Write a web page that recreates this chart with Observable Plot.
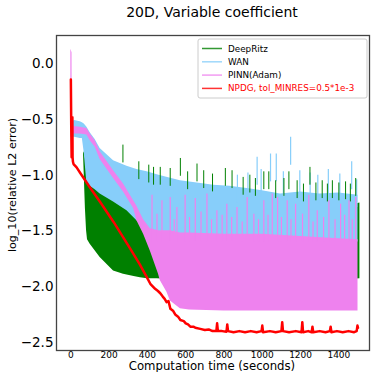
<!DOCTYPE html>
<html>
<head>
<meta charset="utf-8">
<script src="https://cdn.jsdelivr.net/npm/d3@7"></script>
<script src="https://cdn.jsdelivr.net/npm/@observablehq/plot@0.6"></script>
<style>
  body { margin: 0; background: #fff; }
  #chart { position: relative; width: 371px; height: 372px; }
  svg { font-family: "DejaVu Sans", sans-serif; }
</style>
</head>
<body>
<div id="chart"></div>
<script>
// ---------- tick labels ----------
const xTicks = [0, 200, 400, 600, 800, 1000, 1200, 1400];
const yTicks = [0, -0.5, -1.0, -1.5, -2.0, -2.5];

// ---------- series names / colors ----------
const seriesNames = ["DeepRitz", "WAN", "PINN(Adam)", "NPDG, tol_MINRES=0.5*1e-3"];
const seriesColors = ["#008000", "#87CEFA", "#EE82EE", "#FF0000"];

// ---------- DeepRitz (noisy band: lower / upper envelope) ----------
const greenT  = [66, 70, 76, 82, 87, 101, 153, 223, 275, 330, 363, 400, 450, 600, 800, 1000, 1200, 1400, 1510];
const greenLo = [-0.80, -1.00, -1.30, -1.50, -1.58, -1.62, -1.74, -1.86, -1.89, -1.91, -1.92, -1.93, -1.93, -1.94, -1.94, -1.94, -1.94, -1.94, -1.93];
const greenHi = [-0.79, -0.80, -0.85, -0.95, -1.02, -1.07, -1.13, -1.21, -1.28, -1.35, -1.38, -1.45, -1.50, -1.50, -1.45, -1.40, -1.35, -1.30, -1.25];
const greenSpikeT = [272, 355, 407, 432, 467, 519, 572, 610, 659, 694, 740, 807, 842, 900, 935, 964, 1008, 1034, 1070, 1113, 1139, 1182, 1215, 1249, 1280, 1313, 1340, 1366, 1400, 1435, 1460, 1488];
const greenSpikeV = [-0.73, -0.88, -0.91, -0.93, -0.93, -0.94, -0.85, -0.97, -0.90, -0.96, -0.99, -0.94, -0.96, -1.02, -1.00, -1.03, -0.97, -0.97, -1.05, -1.03, -0.97, -1.05, -1.08, -0.93, -1.07, -1.05, -1.08, -1.05, -1.07, -1.06, -1.08, -1.03];

// ---------- WAN ----------
const blueT  = [0, 3, 5, 20, 49, 60, 70, 84, 101, 127, 153, 223, 293, 345, 398, 460, 572, 660, 746, 830, 921, 1000, 1095, 1200, 1300, 1400, 1500];
const blueHi = [-0.15, -0.48, -0.52, -0.51, -0.52, -0.53, -0.54, -0.57, -0.62, -0.68, -0.76, -0.87, -0.92, -0.95, -0.97, -1.00, -1.05, -1.07, -1.09, -1.10, -1.12, -1.14, -1.17, -1.15, -1.17, -1.16, -1.18];
const blueLo = [-0.66, -0.66, -0.66, -0.66, -0.67, -0.67, -0.80, -1.08, -1.10, -1.13, -1.17, -1.24, -1.32, -1.41, -1.50, -1.56, -1.60, -1.60, -1.60, -1.60, -1.60, -1.60, -1.60, -1.60, -1.60, -1.60, -1.60];
const blueSpikeT = [870, 925, 973, 994, 1043, 1073, 1110, 1148, 1196, 1250, 1290, 1345, 1405, 1467, 1493];
const blueSpikeV = [-1.00, -0.98, -0.84, -0.95, -0.81, -0.81, -0.97, -0.66, -0.96, -0.98, -1.00, -0.95, -0.99, -0.88, -1.04];

// ---------- PINN(Adam) ----------
const pinkT  = [0, 6, 7, 49, 84, 101, 127, 153, 223, 275, 328, 345, 380, 415, 458, 467, 502, 520, 572, 620, 800, 1000, 1200, 1400, 1500];
const pinkHi = [0.13, 0.10, -0.56, -0.57, -0.58, -0.63, -0.69, -0.79, -0.96, -1.08, -1.23, -1.28, -1.40, -1.48, -1.50, -1.50, -1.50, -1.50, -1.52, -1.52, -1.53, -1.53, -1.55, -1.57, -1.58];
const pinkLo = [-0.62, -0.62, -0.63, -0.63, -0.64, -0.69, -0.75, -0.86, -1.03, -1.15, -1.30, -1.41, -1.53, -1.68, -1.89, -1.945, -2.05, -2.13, -2.20, -2.21, -2.22, -2.22, -2.22, -2.22, -2.22];
const pinkSpikeT = [424, 450, 476, 519, 540, 554, 597, 620, 650, 680, 711, 735, 763, 790, 815, 840, 868, 895, 921, 956, 980, 1008, 1030, 1052, 1080, 1100, 1130, 1150, 1174, 1210, 1243, 1265, 1287, 1320, 1348, 1380, 1409, 1430, 1453, 1470, 1488];
const pinkSpikeV = [-1.18, -1.35, -1.23, -1.20, -1.40, -1.29, -1.18, -1.38, -1.21, -1.33, -1.17, -1.40, -1.32, -1.36, -1.26, -1.38, -1.29, -1.42, -1.20, -1.35, -1.40, -1.23, -1.36, -1.17, -1.20, -1.38, -1.23, -1.40, -1.26, -1.35, -1.18, -1.42, -1.32, -1.38, -1.23, -1.40, -1.26, -1.36, -1.23, -1.40, -1.20];

// ---------- NPDG ----------
const redT = [0, 2, 4, 6, 8, 9, 11, 14, 30, 49, 100, 153, 223, 310, 360, 398, 415, 440, 455, 467, 480, 490, 500, 510, 520, 535, 545, 560, 572, 590, 600, 612, 624, 640, 650, 676, 700, 720, 740, 760, 764, 768, 790, 813, 817, 821, 850, 880, 910, 940, 970, 996, 1000, 1004, 1040, 1070, 1100, 1104, 1108, 1140, 1175, 1205, 1209, 1213, 1240, 1258, 1262, 1266, 1300, 1330, 1353, 1357, 1361, 1390, 1420, 1450, 1480, 1493, 1497, 1500];
const redV = [-0.14, -0.55, -0.84, -0.80, -0.48, -0.84, -0.88, -0.90, -0.93, -0.98, -1.11, -1.24, -1.42, -1.66, -1.80, -1.92, -1.975, -2.02, -2.04, -2.06, -2.09, -2.11, -2.14, -2.13, -2.20, -2.22, -2.25, -2.27, -2.30, -2.31, -2.33, -2.34, -2.36, -2.36, -2.37, -2.38, -2.39, -2.385, -2.40, -2.40, -2.33, -2.40, -2.40, -2.405, -2.34, -2.40, -2.41, -2.40, -2.41, -2.40, -2.41, -2.40, -2.35, -2.41, -2.40, -2.41, -2.40, -2.32, -2.40, -2.41, -2.40, -2.41, -2.32, -2.41, -2.40, -2.41, -2.36, -2.41, -2.40, -2.41, -2.40, -2.36, -2.41, -2.40, -2.41, -2.40, -2.41, -2.40, -2.35, -2.37];

// ---------- build tables ----------
const band = (T, lo, hi) => T.map((t, i) => ({t, lo: lo[i], hi: hi[i]}));
const pts = (T, V) => T.map((t, i) => ({t, v: V[i]}));
const green = band(greenT, greenLo, greenHi);
const blue = band(blueT, blueLo, blueHi);
const pink = band(pinkT, pinkLo, pinkHi);
const red = pts(redT, redV);
const gSp = pts(greenSpikeT, greenSpikeV);
const bSp = pts(blueSpikeT, blueSpikeV);
const pSp = pts(pinkSpikeT, pinkSpikeV);

const W = 371, H = 372;
const plot = Plot.plot({
  width: W, height: H,
  marginLeft: 56, marginRight: 2, marginTop: 35, marginBottom: 22,
  x: {domain: [-75, 1560]},
  y: {domain: [-2.574, 0.254]},
  style: {fontFamily: "DejaVu Sans, sans-serif", background: "#fff"},
  marks: [
    Plot.areaY(green, {x: "t", y1: "lo", y2: "hi", fill: seriesColors[0], curve: "linear"}),
    Plot.areaY(blue, {x: "t", y1: "lo", y2: "hi", fill: seriesColors[1], curve: "linear"}),
    Plot.ruleX(bSp, {x: "t", y1: "v", y2: d => d.v - 0.25, stroke: seriesColors[1], strokeWidth: 1.2}),
    Plot.ruleX(gSp, {x: "t", y1: "v", y2: d => d.v - 0.16, stroke: seriesColors[0], strokeWidth: 1}),
    Plot.areaY(pink, {x: "t", y1: "lo", y2: "hi", fill: seriesColors[2], curve: "linear"}),
    Plot.ruleX(pSp, {x: "t", y1: "v", y2: -1.6, stroke: seriesColors[2], strokeWidth: 1.2}),
    Plot.line(red, {x: "t", y: "v", stroke: seriesColors[3], strokeWidth: 2.5, curve: "linear"}),
    Plot.frame({stroke: "#444", strokeWidth: 1.3}),
    Plot.axisX({ticks: xTicks, tickSize: 0, tickPadding: 1, fontSize: 9, label: null, tickFormat: d3.format("d")}),
    Plot.axisY({ticks: yTicks, tickSize: 0, tickPadding: 3, fontSize: 13.5, label: null, tickFormat: d3.format(".1f")})
  ]
});
document.getElementById("chart").appendChild(plot);

// ---------- title, axis labels, legend as real SVG text ----------
const svg = d3.select(plot);
svg.append("text").attr("x", 212).attr("y", 17).attr("text-anchor", "middle")
  .attr("font-size", 14).attr("fill", "#000").text("20D, Variable coefficient");
svg.append("text").attr("x", 212).attr("y", 370).attr("text-anchor", "middle")
  .attr("font-size", 11.7).attr("fill", "#000").text("Computation time (seconds)");
svg.append("text").attr("transform", "translate(15.5,185) rotate(-90)").attr("text-anchor", "middle")
  .attr("font-size", 11.1).attr("fill", "#000").text("log_10(relative L2 error)");

const lg = svg.append("g").attr("text-anchor", "start");
lg.append("rect").attr("x", 198).attr("y", 39).attr("width", 169).attr("height", 59).attr("rx", 2)
  .attr("fill", "#fff").attr("fill-opacity", 0.8).attr("stroke", "#ccc").attr("stroke-width", 1);
const rowY = [48.5, 61.8, 75.1, 88.4];
seriesNames.forEach((name, i) => {
  lg.append("line").attr("x1", 202).attr("x2", 222).attr("y1", rowY[i]).attr("y2", rowY[i])
    .attr("stroke", seriesColors[i]).attr("stroke-width", 1.5).attr("stroke-opacity", 0.8);
  lg.append("text").attr("x", 228).attr("y", rowY[i]).attr("dy", "0.35em").attr("text-anchor", "start")
    .attr("font-size", 8.8).attr("fill", i === 3 ? "#FF0000" : "#000").text(name);
});
</script>
</body>
</html>
